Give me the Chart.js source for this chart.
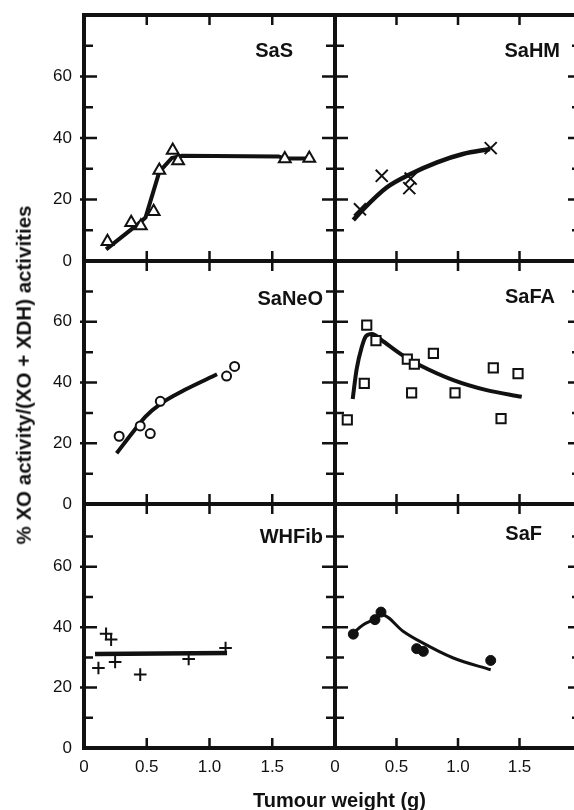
<!DOCTYPE html>
<html>
<head>
<meta charset="utf-8">
<script src="https://cdn.jsdelivr.net/npm/chart.js@4.4.1/dist/chart.umd.min.js"></script>
<style>
html,body{margin:0;padding:0;background:#fff;width:574px;height:810px;overflow:hidden;}
#wrap{position:relative;width:574px;height:810px;overflow:hidden;background:#fff;}
#wrap canvas{position:absolute;left:0;top:0;}
.title{position:absolute;white-space:nowrap;font-family:"Liberation Sans",Arial,Helvetica,sans-serif;font-weight:bold;color:#111;line-height:1;}
#ytitle{left:23.5px;top:375px;font-size:20.5px;transform:translate(-50%,-50%) rotate(-90deg);}
#xtitle{left:339.5px;top:790px;font-size:20px;transform:translateX(-50%);}
</style>
</head>
<body>
<div id="wrap">
<canvas id="p0" width="600" height="810"></canvas>
<canvas id="p1" width="600" height="810"></canvas>
<canvas id="p2" width="600" height="810"></canvas>
<canvas id="p3" width="600" height="810"></canvas>
<canvas id="p4" width="600" height="810"></canvas>
<canvas id="p5" width="600" height="810"></canvas>
<div class="title" id="ytitle">% XO activity/(XO + XDH) activities</div>
<div class="title" id="xtitle">Tumour weight (g)</div>
</div>
<script>
// ---- tick labels ----
const xTickLabels = ['0', '0.5', '1.0', '1.5'];   // at 0, 0.5, 1.0, 1.5 g
const yTickLabels = ['0', '20', '40', '60'];      // at 0, 20, 40, 60 %
const panelNames = ['SaS', 'SaHM', 'SaNeO', 'SaFA', 'WHFib', 'SaF'];

// ---- SaS (triangles) ----
const sasX = [0.187, 0.376, 0.453, 0.555, 0.600, 0.707, 0.750, 1.600, 1.795];
const sasY = [6.3, 12.5, 11.4, 16.1, 29.5, 36.0, 32.6, 33.2, 33.4];
const sasFitX = [0.176, 0.43, 0.49, 0.60, 0.70, 0.78, 1.55, 1.60, 1.795];
const sasFitY = [3.8, 12.0, 14.1, 29.0, 33.5, 34.2, 34.0, 33.3, 33.3];

// ---- SaHM (crosses) ----
const hmX = [0.203, 0.380, 0.615, 0.604, 1.266];
const hmY = [16.8, 27.7, 26.8, 23.7, 36.7];
const hmFitX = [0.149, 0.217, 0.42, 0.61, 0.83, 1.04, 1.26];
const hmFitY = [13.3, 16.3, 23.9, 28.2, 32.1, 34.8, 36.4];

// ---- SaNeO (open circles) ----
const neoX = [0.280, 0.448, 0.528, 0.608, 1.136, 1.200];
const neoY = [22.3, 25.7, 23.2, 33.8, 42.1, 45.3];
const neoFitX = [0.26, 0.40, 0.49, 0.61, 0.80, 1.06];
const neoFitY = [16.7, 24.2, 28.8, 33.0, 37.5, 42.7];

// ---- SaFA (open squares) ----
const faX = [0.100, 0.258, 0.238, 0.333, 0.588, 0.645, 0.623, 0.800, 0.976, 1.287, 1.350, 1.488];
const faY = [27.7, 58.9, 39.7, 53.8, 47.7, 46.0, 36.6, 49.6, 36.6, 44.8, 28.1, 42.9];
const faFitX = [0.144, 0.176, 0.217, 0.252, 0.30, 0.393, 0.556, 0.69, 0.962, 1.233, 1.518];
const faFitY = [34.6, 44.4, 51.6, 55.3, 56.0, 53.5, 48.8, 45.7, 40.8, 37.5, 35.3];

// ---- WHFib (plus signs) ----
const whX = [0.115, 0.176, 0.216, 0.248, 0.448, 0.834, 1.128];
const whY = [26.5, 37.8, 35.9, 28.5, 24.3, 29.5, 33.1];
const whFitX = [0.088, 1.14];
const whFitY = [31.1, 31.5];

// ---- SaF (filled circles) ----
const fX = [0.149, 0.325, 0.374, 0.664, 0.718, 1.266];
const fY = [37.7, 42.5, 45.0, 32.9, 32.0, 29.0];
const fFitX = [0.149, 0.23, 0.325, 0.38, 0.556, 0.69, 0.962, 1.266];
const fFitY = [38.1, 40.8, 42.7, 44.1, 38.6, 35.3, 29.8, 25.9];

// ---- layout / style (not data) ----
const FONT = '"Liberation Sans", Arial, Helvetica, sans-serif';
const INK = '#111';
const colX = [[84, 335], [335, 581]];
const rowY = [[15, 261], [261, 504], [504, 748]];
const rowMax = [80, 80, 80.8];
const labelPos = [[293, 57], [560, 57], [323, 305], [555, 303], [323, 543], [542, 540]];

const series = [
  {pts: [sasX, sasY], fit: [sasFitX, sasFitY], style: 'triangle', r: 6.8, bw: 2, fill: '#fff', lw: 4, curve: false},
  {pts: [hmX, hmY], fit: [hmFitX, hmFitY], style: 'crossRot', r: 8.5, bw: 2, fill: '#fff', lw: 4.5, curve: true},
  {pts: [neoX, neoY], fit: [neoFitX, neoFitY], style: 'circle', r: 4.5, bw: 2, fill: '#fff', lw: 4, curve: true},
  {pts: [faX, faY], fit: [faFitX, faFitY], style: 'rect', r: 6.5, bw: 2, fill: '#fff', lw: 4, curve: true},
  {pts: [whX, whY], fit: [whFitX, whFitY], style: 'cross', r: 6.3, bw: 2, fill: '#fff', lw: 4.5, curve: false},
  {pts: [fX, fY], fit: [fFitX, fFitY], style: 'circle', r: 5, bw: 1, fill: INK, lw: 3, curve: true}
];

function zip(xs, ys) { return xs.map((x, i) => ({x: x, y: ys[i]})); }
function xLabel(v) {
  const i = Math.round(v / 0.5);
  return (Math.abs(v - i * 0.5) < 1e-9 && i < xTickLabels.length) ? xTickLabels[i] : '';
}
function yLabel(v) {
  const i = Math.round(v / 20);
  return (Math.abs(v - i * 20) < 1e-9 && i < yTickLabels.length) ? yTickLabels[i] : '';
}
function noPad(sc) { sc.paddingTop = 0; sc.paddingBottom = 0; sc.paddingLeft = 0; sc.paddingRight = 0; }

const decor = {
  id: 'decor',
  afterDatasetsDraw(chart, args, o) {
    const ctx = chart.ctx, a = chart.chartArea, x = chart.scales.x, y = chart.scales.y;
    ctx.save();
    ctx.strokeStyle = INK;
    ctx.lineWidth = 2.5;
    ctx.beginPath();
    for (let v = 10; v < 80; v += 10) {
      const py = y.getPixelForValue(v);
      const len = v % 20 === 0 ? 13 : 9;
      ctx.moveTo(a.left - (o.outer && v % 20 === 0 ? 4 : 0), py); ctx.lineTo(a.left + len, py);
      ctx.moveTo(a.right - len, py); ctx.lineTo(a.right, py);
    }
    for (const v of [0.5, 1, 1.5]) {
      const px = x.getPixelForValue(v);
      ctx.moveTo(px, a.top); ctx.lineTo(px, a.top + 10);
      ctx.moveTo(px, a.bottom - 10); ctx.lineTo(px, a.bottom);
    }
    ctx.stroke();
    ctx.lineWidth = 4;
    ctx.strokeRect(a.left, a.top, a.right - a.left, a.bottom - a.top);
    ctx.fillStyle = INK;
    ctx.font = 'bold 20px ' + FONT;
    ctx.textAlign = 'right';
    ctx.textBaseline = 'alphabetic';
    ctx.fillText(o.label, o.lx, o.ly);
    ctx.restore();
  }
};

series.forEach((s, i) => {
  const col = i % 2, row = Math.floor(i / 2);
  const L = colX[col][0], R = colX[col][1], T = rowY[row][0], B = rowY[row][1];
  const isLeft = col === 0, isBottom = row === 2;
  new Chart(document.getElementById('p' + i), {
    type: 'scatter',
    data: {
      datasets: [
        {
          data: zip(s.pts[0], s.pts[1]), showLine: false,
          pointStyle: s.style, pointRadius: s.r, pointHoverRadius: s.r,
          pointBorderWidth: s.bw, pointBorderColor: INK, pointBackgroundColor: s.fill
        },
        {
          data: zip(s.fit[0], s.fit[1]), showLine: true, fill: false,
          borderColor: INK, borderWidth: s.lw, pointRadius: 0, pointHoverRadius: 0,
          cubicInterpolationMode: s.curve ? 'monotone' : 'default', tension: 0
        }
      ]
    },
    options: {
      responsive: false, animation: false, devicePixelRatio: 1, events: [],
      layout: {padding: {left: isLeft ? 0 : L, right: 600 - R, top: T, bottom: isBottom ? 0 : 810 - B}},
      plugins: {
        legend: {display: false}, tooltip: {enabled: false},
        decor: {label: panelNames[i], lx: labelPos[i][0], ly: labelPos[i][1], outer: isLeft}
      },
      scales: {
        x: {
          type: 'linear', min: 0, max: 2, display: isBottom,
          grid: {display: false, drawTicks: false}, border: {display: false},
          ticks: {stepSize: 0.5, autoSkip: false, maxRotation: 0, padding: 9, color: INK,
                  font: {family: FONT, size: 17}, callback: v => xLabel(v)},
          afterFit: sc => { noPad(sc); if (isBottom) { sc.height = 810 - B; } }
        },
        y: {
          type: 'linear', min: 0, max: rowMax[row], display: isLeft,
          grid: {display: false, drawTicks: false}, border: {display: false},
          ticks: {stepSize: 10, autoSkip: false, padding: 12, color: INK,
                  font: {family: FONT, size: 17}, callback: v => yLabel(v)},
          afterFit: sc => { noPad(sc); if (isLeft) { sc.width = L; } }
        }
      }
    },
    plugins: [decor]
  });
});
</script>
</body>
</html>
